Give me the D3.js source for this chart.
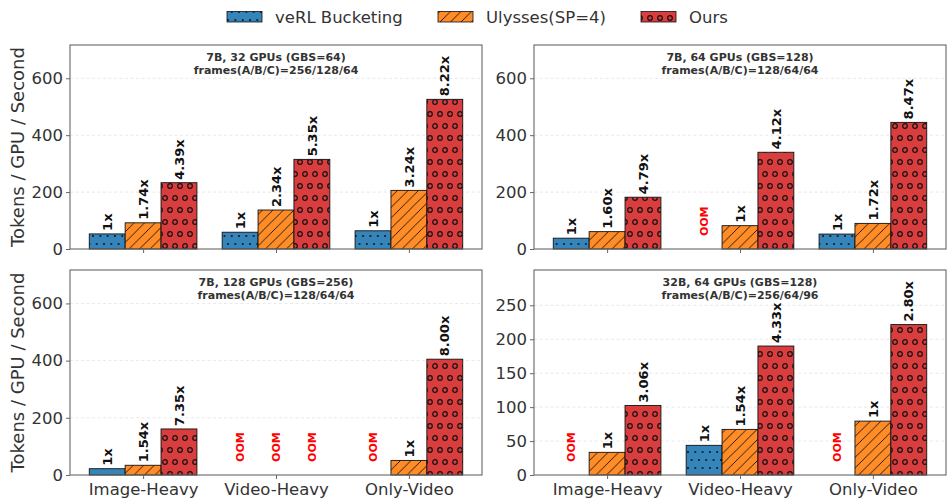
<!DOCTYPE html>
<html>
<head>
<meta charset="utf-8">
<script src="https://cdn.jsdelivr.net/npm/d3@7"></script>
<style>
  html, body { margin: 0; padding: 0; background: #fff; }
  svg { display: block; font-family: "DejaVu Sans", sans-serif; }
</style>
</head>
<body>
<svg id="chart" width="948" height="500"></svg>
<script>
// ---------------- DATA ----------------
const categories = ["Image-Heavy", "Video-Heavy", "Only-Video"];
const seriesNames = ["veRL Bucketing", "Ulysses(SP=4)", "Ours"];
const panelTitles = [
  ["7B, 32 GPUs (GBS=64)", "frames(A/B/C)=256/128/64"],
  ["7B, 64 GPUs (GBS=128)", "frames(A/B/C)=128/64/64"],
  ["7B, 128 GPUs (GBS=256)", "frames(A/B/C)=128/64/64"],
  ["32B, 64 GPUs (GBS=128)", "frames(A/B/C)=256/64/96"]
];
const panelModel = ["7B", "7B", "7B", "32B"];
// values per panel per category (null = OOM)
const verlValues    = [[53, 59, 64], [38, null, 52.5], [22, null, null], [null, 43.7, null]];
const ulyssesValues = [[92, 137, 206], [61, 82, 90], [34, null, 51], [33.4, 67.2, 79.4]];
const oursValues    = [[233, 315, 526], [182, 340, 445], [161, null, 405], [102.5, 190, 221.6]];
const verlLabels    = [["1x", "1x", "1x"], ["1x", "OOM", "1x"], ["1x", "OOM", "OOM"], ["OOM", "1x", "OOM"]];
const ulyssesLabels = [["1.74x", "2.34x", "3.24x"], ["1.60x", "1x", "1.72x"], ["1.54x", "OOM", "1x"], ["1x", "1.54x", "1x"]];
const oursLabels    = [["4.39x", "5.35x", "8.22x"], ["4.79x", "4.12x", "8.47x"], ["7.35x", "OOM", "8.00x"], ["3.06x", "4.33x", "2.80x"]];
const yTicks7B  = [0, 200, 400, 600];
const yTicks32B = [0, 50, 100, 150, 200, 250];
const yLabel = "Tokens / GPU / Second";

// ---------------- STYLE ----------------
const colors = ["#3585bb", "#ff8c26", "#da3d3e"];
const hatchIds = ["hatch-dots", "hatch-diag", "hatch-circles"];
const textColor = "#333";
const spineColor = "#666";

const svg = d3.select("#chart");
const defs = svg.append("defs");

// patterns
function makePattern(id, color, w, h, drawFn) {
  const p = defs.append("pattern").attr("id", id)
    .attr("patternUnits", "userSpaceOnUse")
    .attr("width", w).attr("height", h);
  p.append("rect").attr("width", w).attr("height", h).attr("fill", color);
  drawFn(p);
}
makePattern(hatchIds[0], colors[0], 7.3, 16, p => {
  [[1.8, 4], [5.45, 12]].forEach(([cx, cy]) =>
    p.append("circle").attr("cx", cx).attr("cy", cy).attr("r", 1).attr("fill", "#111"));
});
makePattern(hatchIds[1], colors[1], 10.5, 10.5, p => {
  p.append("path")
    .attr("d", "M0,10.5 L10.5,0 M-2,2 L2,-2 M8.5,12.5 L12.5,8.5")
    .attr("stroke", "#111").attr("stroke-width", 0.9);
});
makePattern(hatchIds[2], colors[2], 10, 24, p => {
  [[5, 6], [0, 18], [10, 18]].forEach(([cx, cy]) =>
    p.append("circle").attr("cx", cx).attr("cy", cy).attr("r", 2.3)
      .attr("fill", "none").attr("stroke", "#111").attr("stroke-width", 1.2));
});

// ---------------- LEGEND ----------------
const legendItems = [
  { x: 227, name: seriesNames[0], i: 0 },
  { x: 438, name: seriesNames[1], i: 1 },
  { x: 641, name: seriesNames[2], i: 2 }
];
const lg = svg.append("g");
legendItems.forEach(d => {
  lg.append("rect").attr("x", d.x).attr("y", 11.5).attr("width", 35).attr("height", 10.5)
    .attr("fill", `url(#${hatchIds[d.i]})`).attr("stroke", "#111").attr("stroke-width", 0.8);
  lg.append("text").attr("x", d.x + 48).attr("y", 17).attr("dy", "0.35em")
    .attr("font-size", 16.5).attr("fill", textColor).text(d.name);
});

// ---------------- PANELS ----------------
const panels = [
  { x0: 70, x1: 482, y0: 45, y1: 249, showX: false, showYLabel: true },
  { x0: 534, x1: 946, y0: 45, y1: 249, showX: false, showYLabel: false },
  { x0: 70, x1: 482, y0: 270, y1: 475, showX: true, showYLabel: true },
  { x0: 534, x1: 946, y0: 270, y1: 475, showX: true, showYLabel: false }
];

const allValues = [verlValues, ulyssesValues, oursValues];
const allLabels = [verlLabels, ulyssesLabels, oursLabels];

function maxFor(model) {
  let m = 0;
  panelModel.forEach((pm, p) => {
    if (pm !== model) return;
    allValues.forEach(sv => sv[p].forEach(v => { if (v != null && v > m) m = v; }));
  });
  return m * 1.363;
}
const yMaxByModel = { "7B": maxFor("7B"), "32B": maxFor("32B") };

const barW = 0.27;

panels.forEach((pan, p) => {
  const g = svg.append("g");
  const x = d3.scaleLinear().domain([-0.55, 2.55]).range([pan.x0, pan.x1]);
  const y = d3.scaleLinear().domain([0, yMaxByModel[panelModel[p]]]).range([pan.y1, pan.y0]);
  const ticks = panelModel[p] === "7B" ? yTicks7B : yTicks32B;

  // grid
  g.append("g").selectAll("line").data(ticks.filter(t => t > 0)).join("line")
    .attr("x1", pan.x0).attr("x2", pan.x1)
    .attr("y1", d => y(d)).attr("y2", d => y(d))
    .attr("stroke", "#e2e2e2").attr("stroke-width", 0.8).attr("stroke-dasharray", "3,2.5");

  // bars
  allValues.forEach((sv, s) => {
    const off = (s - 1) * barW;
    categories.forEach((c, ci) => {
      const v = sv[p][ci];
      const lab = allLabels[s][p][ci];
      const cx = x(ci + off);
      if (v != null) {
        g.append("rect")
          .attr("x", x(ci + off - barW / 2)).attr("width", x(barW) - x(0))
          .attr("y", y(v)).attr("height", y(0) - y(v))
          .attr("fill", `url(#${hatchIds[s]})`)
          .attr("stroke", "#111").attr("stroke-width", 0.9);
        g.append("text")
          .attr("transform", `translate(${cx},${y(v) - 3}) rotate(-90)`)
          .attr("dy", "0.36em")
          .attr("text-anchor", "start")
          .attr("font-size", 13).attr("font-weight", "bold").attr("fill", "#111")
          .text(lab);
      } else {
        const yy = y(y.domain()[1] * 0.136);
        g.append("text")
          .attr("transform", `translate(${cx},${yy}) rotate(-90)`)
          .attr("dy", "0.36em")
          .attr("text-anchor", "middle")
          .attr("font-size", 11).attr("font-weight", "bold").attr("fill", "#ff0000")
          .text(lab);
      }
    });
  });

  // frame
  g.append("rect").attr("x", pan.x0).attr("y", pan.y0)
    .attr("width", pan.x1 - pan.x0).attr("height", pan.y1 - pan.y0)
    .attr("fill", "none").attr("stroke", spineColor).attr("stroke-width", 1.1);

  // y axis
  const ya = g.append("g").attr("transform", `translate(${pan.x0},0)`)
    .call(d3.axisLeft(y).tickValues(ticks).tickSize(4).tickPadding(3).tickFormat(d3.format("d")));
  ya.select(".domain").remove();
  ya.selectAll("line").attr("stroke", spineColor);
  ya.selectAll("text").attr("font-size", 16.5).attr("fill", textColor)
    .attr("font-family", "DejaVu Sans, sans-serif");

  // x axis
  const xa = g.append("g").attr("transform", `translate(0,${pan.y1})`)
    .call(d3.axisBottom(x).tickValues([0, 1, 2]).tickSize(4).tickPadding(4)
      .tickFormat(i => pan.showX ? categories[i] : ""));
  xa.select(".domain").remove();
  xa.selectAll("line").attr("stroke", spineColor);
  xa.selectAll("text").attr("font-size", 16.5).attr("fill", textColor)
    .attr("font-family", "DejaVu Sans, sans-serif");

  // title
  const tx = (pan.x0 + pan.x1) / 2;
  g.append("text").attr("x", tx).attr("y", pan.y0 + 16)
    .attr("text-anchor", "middle").attr("font-size", 11).attr("font-weight", "bold")
    .attr("fill", textColor).text(panelTitles[p][0]);
  g.append("text").attr("x", tx).attr("y", pan.y0 + 28.5)
    .attr("text-anchor", "middle").attr("font-size", 11).attr("font-weight", "bold")
    .attr("fill", textColor).text(panelTitles[p][1]);

  // y label
  if (pan.showYLabel) {
    g.append("text")
      .attr("transform", `translate(18,${(pan.y0 + pan.y1) / 2}) rotate(-90)`)
      .attr("text-anchor", "middle").attr("dy", "0.35em")
      .attr("font-size", 18).attr("fill", textColor).text(yLabel);
  }
});
</script>
</body>
</html>
